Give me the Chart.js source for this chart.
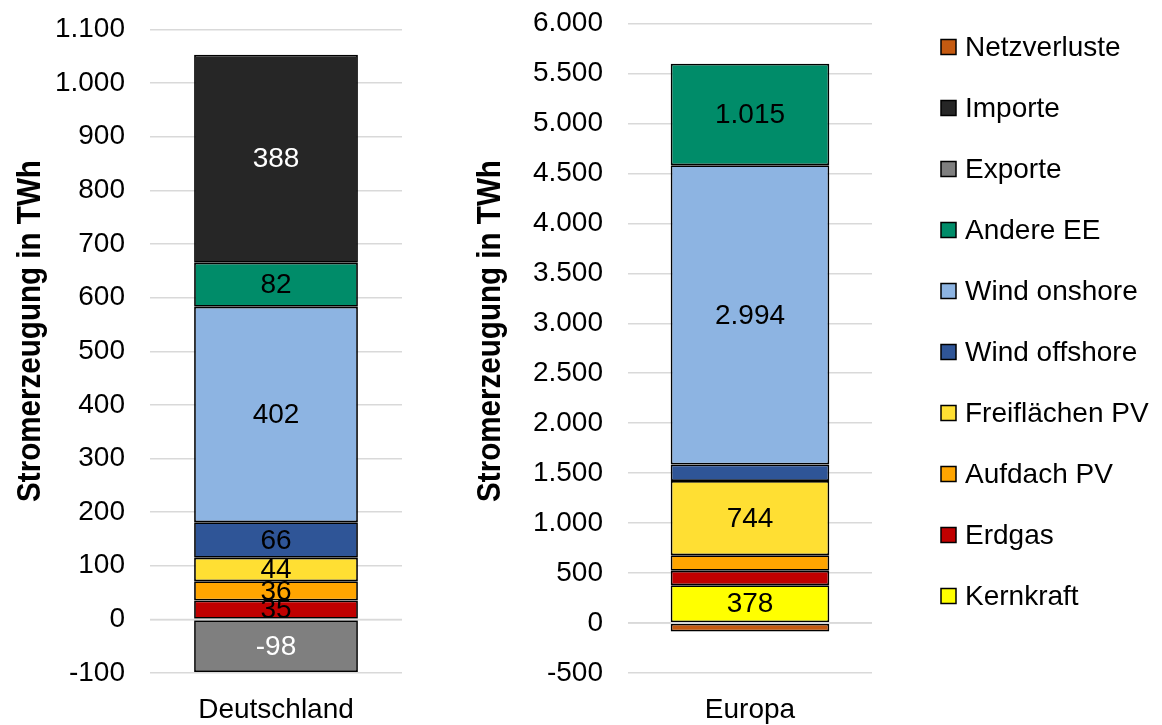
<!DOCTYPE html>
<html>
<head>
<meta charset="utf-8">
<script src="https://cdn.jsdelivr.net/npm/chart.js@4/dist/chart.umd.min.js"></script>
<style>
  html, body { margin: 0; padding: 0; background: #fff; }
  #wrap { position: relative; width: 1162px; height: 725px; overflow: hidden; }
  canvas { position: absolute; top: 0; }
  #de { left: 0; }
  #eu { left: 460px; }
</style>
</head>
<body>
<div id="wrap">
  <canvas id="de" width="460" height="725"></canvas>
  <canvas id="eu" width="702" height="725"></canvas>
</div>
<script>
// stacking order, bottom to top (legend shows it reversed)
const seriesNames = ['Kernkraft', 'Erdgas', 'Aufdach PV', 'Freiflächen PV', 'Wind offshore',
  'Wind onshore', 'Andere EE', 'Exporte', 'Importe', 'Netzverluste']

// values in TWh, same order as seriesNames
const deutschlandValues = [null, 35, 36, 44, 66, 402, 82, -98, 388, null]
const europaValues = [378, 145, 155, 744, 165, 2994, 1015, null, null, -85]

const deCategories = ['Deutschland']
const euCategories = ['Europa']

const deTicks = { min: -100, max: 1100, step: 100 }
const euTicks = { min: -500, max: 6000, step: 500 }

const axisTitle = 'Stromerzeugung in TWh'

const seriesColors = {
  'Kernkraft': '#FFFF00',
  'Erdgas': '#C00000',
  'Aufdach PV': '#FFA500',
  'Freiflächen PV': '#FFDF33',
  'Wind offshore': '#2F5597',
  'Wind onshore': '#8DB4E2',
  'Andere EE': '#008C69',
  'Exporte': '#7F7F7F',
  'Importe': '#262626',
  'Netzverluste': '#C55A11',
}
const whiteLabels = ['Importe', 'Exporte']

const FONT = '"Liberation Sans", Arial, sans-serif'
Chart.defaults.font.family = FONT
Chart.defaults.color = '#000'

function fmtDE(v) {
  const s = Math.abs(Math.round(v)).toString().replace(/\B(?=(\d{3})+(?!\d))/g, '.')
  return (v < 0 ? '-' : '') + s
}

const excelExtras = {
  id: 'excelExtras',
  afterDatasetsDraw(chart, _args, opts) {
    const { ctx, chartArea } = chart
    const y0 = chart.scales.y.getPixelForValue(0)
    ctx.save()
    // horizontal axis line at zero, drawn over the bars like in Excel
    ctx.strokeStyle = '#D9D9D9'
    ctx.lineWidth = 1.5
    ctx.beginPath()
    ctx.moveTo(chartArea.left, y0)
    ctx.lineTo(chartArea.right, y0)
    ctx.stroke()

    ctx.font = '28px ' + FONT
    ctx.textAlign = 'center'
    ctx.textBaseline = 'middle'
    chart.data.datasets.forEach((ds, i) => {
      const meta = chart.getDatasetMeta(i)
      meta.data.forEach((bar, j) => {
        const v = ds.data[j]
        if (v == null) return
        const { x, y, base } = bar.getProps(['x', 'y', 'base'], true)
        if (Math.abs(base - y) < opts.minLabelHeight) return
        ctx.fillStyle = whiteLabels.includes(ds.label) ? '#fff' : '#000'
        ctx.fillText(fmtDE(v), x, (y + base) / 2 + 1)
      })
    })
    ctx.restore()
  },
  afterDraw(chart, _args, opts) {
    const { ctx } = chart
    ctx.save()
    // rotated, condensed bold axis title
    ctx.translate(opts.titleX, opts.titleY)
    ctx.rotate(-Math.PI / 2)
    ctx.scale(0.87, 1)
    ctx.font = 'bold 34px ' + FONT
    ctx.textAlign = 'center'
    ctx.textBaseline = 'alphabetic'
    ctx.fillStyle = '#000'
    ctx.fillText(opts.title, 0, 0)
    ctx.restore()

    if (!opts.legend) return
    const { x, y, step, box } = opts.legend
    ctx.save()
    ctx.font = '28px ' + FONT
    ctx.textAlign = 'left'
    ctx.textBaseline = 'middle'
    const items = chart.data.datasets.slice().reverse()
    items.forEach((ds, i) => {
      const cy = y + i * step
      ctx.fillStyle = ds.backgroundColor
      ctx.fillRect(x, cy - box / 2, box, box)
      ctx.strokeStyle = '#000'
      ctx.lineWidth = 1.5
      ctx.strokeRect(x, cy - box / 2, box, box)
      ctx.fillStyle = '#000'
      ctx.fillText(ds.label, x + box + 9, cy + 1)
    })
    ctx.restore()
  },
}

function buildDatasets(values) {
  return seriesNames.map((name, i) => ({
    label: name,
    data: [values[i]],
    backgroundColor: seriesColors[name],
    borderColor: '#000',
    borderWidth: 1.75,
    borderSkipped: false,
    barPercentage: 0.65,
    categoryPercentage: 1,
  }))
}

function buildChart(canvasId, categories, values, ticks, layout, extras) {
  return new Chart(document.getElementById(canvasId), {
    type: 'bar',
    data: { labels: categories, datasets: buildDatasets(values) },
    plugins: [excelExtras],
    options: {
      responsive: false,
      animation: false,
      devicePixelRatio: 1,
      layout: { padding: layout.padding },
      plugins: {
        legend: { display: false },
        tooltip: { enabled: false },
        excelExtras: extras,
      },
      scales: {
        x: {
          stacked: true,
          grid: { display: false },
          border: { display: false },
          ticks: { font: { size: 28 }, color: '#000', padding: 12 },
          afterFit(scale) { scale.height = layout.xHeight },
        },
        y: {
          stacked: true,
          min: ticks.min,
          max: ticks.max,
          grid: { color: '#D9D9D9', lineWidth: 1.5, drawTicks: false },
          border: { display: false },
          ticks: {
            stepSize: ticks.step,
            font: { size: 28 },
            color: '#000',
            padding: 25,
            callback: (v) => fmtDE(v),
          },
          afterFit(scale) {
            scale.width = layout.yWidth
            scale.paddingTop = 0
            scale.paddingBottom = 0
          },
        },
      },
    },
  })
}

buildChart('de', deCategories, deutschlandValues, deTicks,
  { padding: { top: 29.5, right: 58, bottom: 0, left: 0 }, yWidth: 150, xHeight: 52 },
  { minLabelHeight: 17.5, title: axisTitle, titleX: 40, titleY: 331 })

buildChart('eu', euCategories, europaValues, euTicks,
  { padding: { top: 23.5, right: 290, bottom: 0, left: 0 }, yWidth: 168, xHeight: 52 },
  { minLabelHeight: 17.5, title: axisTitle, titleX: 40, titleY: 331,
    legend: { x: 481, y: 47, step: 61, box: 15 } })
</script>
</body>
</html>
